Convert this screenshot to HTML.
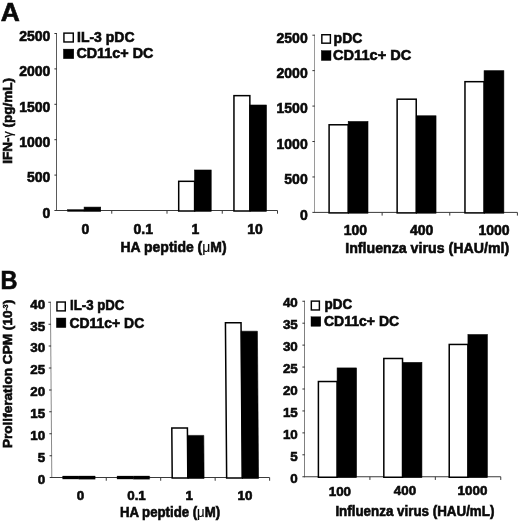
<!DOCTYPE html>
<html><head><meta charset="utf-8"><title>Figure</title>
<style>
html,body{margin:0;padding:0;background:#fff;}
body{width:520px;height:521px;overflow:hidden;font-family:"Liberation Sans",sans-serif;}
svg{display:block;}
svg text{font-family:"Liberation Sans",sans-serif;font-weight:bold;fill:#0a0a0a;stroke:#0a0a0a;stroke-width:0.6px;}
svg{filter:blur(0.35px);}
</style></head>
<body>
<svg width="520" height="521" viewBox="0 0 520 521">
<rect x="0" y="0" width="520" height="521" fill="#fff"/>
<line x1="56.5" y1="33" x2="56.5" y2="211" stroke="#5a5a5a" stroke-width="1"/>
<line x1="56.5" y1="210.5" x2="277.5" y2="210.5" stroke="#3a3a3a" stroke-width="1"/>
<line x1="54.4" y1="33.5" x2="56.8" y2="33.5" stroke="#333" stroke-width="1"/>
<line x1="54.4" y1="68.9" x2="56.8" y2="68.9" stroke="#333" stroke-width="1"/>
<line x1="54.4" y1="104.3" x2="56.8" y2="104.3" stroke="#333" stroke-width="1"/>
<line x1="54.4" y1="139.7" x2="56.8" y2="139.7" stroke="#333" stroke-width="1"/>
<line x1="54.4" y1="175.1" x2="56.8" y2="175.1" stroke="#333" stroke-width="1"/>
<line x1="54.4" y1="210.5" x2="56.8" y2="210.5" stroke="#333" stroke-width="1"/>
<line x1="111.75" y1="210.5" x2="111.75" y2="213.7" stroke="#3a3a3a" stroke-width="1"/>
<line x1="167" y1="210.5" x2="167" y2="213.7" stroke="#3a3a3a" stroke-width="1"/>
<line x1="222.25" y1="210.5" x2="222.25" y2="213.7" stroke="#3a3a3a" stroke-width="1"/>
<line x1="277.5" y1="210.5" x2="277.5" y2="213.7" stroke="#3a3a3a" stroke-width="1"/>
<rect x="67.5" y="209.5" width="16.6" height="2" fill="#000" stroke="#000" stroke-width="0.3"/>
<rect x="84.1" y="207.1" width="16.6" height="4.2" fill="#000" stroke="#000" stroke-width="0.6"/>
<rect x="178.7" y="181.32" width="15.9" height="29.68" fill="#fff" stroke="#000" stroke-width="1.5"/>
<rect x="194.6" y="170" width="16.6" height="41.3" fill="#000" stroke="#000" stroke-width="0.6"/>
<rect x="233.95" y="95.65" width="15.9" height="115.35" fill="#fff" stroke="#000" stroke-width="1.5"/>
<rect x="249.85" y="105.01" width="16.6" height="106.29" fill="#000" stroke="#000" stroke-width="0.6"/>
<text x="50.3" y="40.81" font-size="14" text-anchor="end" >2500</text>
<text x="50.3" y="76.21" font-size="14" text-anchor="end" >2000</text>
<text x="50.3" y="111.61" font-size="14" text-anchor="end" >1500</text>
<text x="50.3" y="147.01" font-size="14" text-anchor="end" >1000</text>
<text x="50.3" y="182.41" font-size="14" text-anchor="end" >500</text>
<text x="50.3" y="218.41" font-size="14" text-anchor="end" >0</text>
<text x="85.4" y="234.4" font-size="14" text-anchor="middle" >0</text>
<text x="143.2" y="234.4" font-size="14" text-anchor="middle" >0.1</text>
<text x="195.5" y="234.4" font-size="14" text-anchor="middle" >1</text>
<text x="255" y="234.4" font-size="14" text-anchor="middle" >10</text>
<line x1="314.5" y1="34.7" x2="314.5" y2="212.9" stroke="#9a9a9a" stroke-width="1"/>
<line x1="314.5" y1="212.4" x2="517.4" y2="212.4" stroke="#3a3a3a" stroke-width="1"/>
<line x1="312.4" y1="35.2" x2="314.8" y2="35.2" stroke="#333" stroke-width="1"/>
<line x1="312.4" y1="70.64" x2="314.8" y2="70.64" stroke="#333" stroke-width="1"/>
<line x1="312.4" y1="106.08" x2="314.8" y2="106.08" stroke="#333" stroke-width="1"/>
<line x1="312.4" y1="141.52" x2="314.8" y2="141.52" stroke="#333" stroke-width="1"/>
<line x1="312.4" y1="176.96" x2="314.8" y2="176.96" stroke="#333" stroke-width="1"/>
<line x1="312.4" y1="212.4" x2="314.8" y2="212.4" stroke="#333" stroke-width="1"/>
<line x1="382.13" y1="212.4" x2="382.13" y2="215.6" stroke="#3a3a3a" stroke-width="1"/>
<line x1="449.77" y1="212.4" x2="449.77" y2="215.6" stroke="#3a3a3a" stroke-width="1"/>
<line x1="517.4" y1="212.4" x2="517.4" y2="215.6" stroke="#3a3a3a" stroke-width="1"/>
<rect x="329.1" y="124.78" width="19.1" height="88.12" fill="#fff" stroke="#000" stroke-width="1.5"/>
<rect x="348.2" y="121.53" width="19.8" height="91.67" fill="#000" stroke="#000" stroke-width="0.6"/>
<rect x="397.13" y="99.19" width="19.1" height="113.71" fill="#fff" stroke="#000" stroke-width="1.5"/>
<rect x="416.23" y="115.79" width="19.8" height="97.41" fill="#000" stroke="#000" stroke-width="0.6"/>
<rect x="464.97" y="81.68" width="19.1" height="131.22" fill="#fff" stroke="#000" stroke-width="1.5"/>
<rect x="484.07" y="70.71" width="19.8" height="142.49" fill="#000" stroke="#000" stroke-width="0.6"/>
<text x="307.7" y="42.61" font-size="14" text-anchor="end" >2500</text>
<text x="307.7" y="78.05" font-size="14" text-anchor="end" >2000</text>
<text x="307.7" y="113.49" font-size="14" text-anchor="end" >1500</text>
<text x="307.7" y="148.93" font-size="14" text-anchor="end" >1000</text>
<text x="307.7" y="184.37" font-size="14" text-anchor="end" >500</text>
<text x="307.7" y="219.81" font-size="14" text-anchor="end" >0</text>
<text x="355.4" y="234.8" font-size="14" text-anchor="middle" >100</text>
<text x="421.6" y="234.8" font-size="14" text-anchor="middle" >400</text>
<text x="494" y="234.8" font-size="14" text-anchor="middle" >1000</text>
<g transform="translate(0 477.6) skewX(0.45) translate(0 -477.6)">
<line x1="51.8" y1="301.8" x2="51.8" y2="478.1" stroke="#8a8a8a" stroke-width="1"/>
<line x1="51.8" y1="477.6" x2="269.6" y2="477.6" stroke="#3a3a3a" stroke-width="1"/>
<line x1="49.7" y1="302.3" x2="52.1" y2="302.3" stroke="#333" stroke-width="1"/>
<line x1="49.7" y1="324.21" x2="52.1" y2="324.21" stroke="#333" stroke-width="1"/>
<line x1="49.7" y1="346.12" x2="52.1" y2="346.12" stroke="#333" stroke-width="1"/>
<line x1="49.7" y1="368.04" x2="52.1" y2="368.04" stroke="#333" stroke-width="1"/>
<line x1="49.7" y1="389.95" x2="52.1" y2="389.95" stroke="#333" stroke-width="1"/>
<line x1="49.7" y1="411.86" x2="52.1" y2="411.86" stroke="#333" stroke-width="1"/>
<line x1="49.7" y1="433.78" x2="52.1" y2="433.78" stroke="#333" stroke-width="1"/>
<line x1="49.7" y1="455.69" x2="52.1" y2="455.69" stroke="#333" stroke-width="1"/>
<line x1="49.7" y1="477.6" x2="52.1" y2="477.6" stroke="#333" stroke-width="1"/>
<line x1="106.25" y1="477.6" x2="106.25" y2="480.8" stroke="#3a3a3a" stroke-width="1"/>
<line x1="160.7" y1="477.6" x2="160.7" y2="480.8" stroke="#3a3a3a" stroke-width="1"/>
<line x1="215.15" y1="477.6" x2="215.15" y2="480.8" stroke="#3a3a3a" stroke-width="1"/>
<line x1="269.6" y1="477.6" x2="269.6" y2="480.8" stroke="#3a3a3a" stroke-width="1"/>
<rect x="62.6" y="476.1" width="16.3" height="3" fill="#000" stroke="#000" stroke-width="0.3"/>
<rect x="78.9" y="476" width="16.3" height="3.2" fill="#000" stroke="#000" stroke-width="0.3"/>
<rect x="117.05" y="476.1" width="16.3" height="3" fill="#000" stroke="#000" stroke-width="0.3"/>
<rect x="133.35" y="476" width="16.3" height="3.2" fill="#000" stroke="#000" stroke-width="0.3"/>
<rect x="172.2" y="428.06" width="15.6" height="50.04" fill="#fff" stroke="#000" stroke-width="1.5"/>
<rect x="187.8" y="435.4" width="16.3" height="43" fill="#000" stroke="#000" stroke-width="0.6"/>
<rect x="226.65" y="322.66" width="15.6" height="155.44" fill="#fff" stroke="#000" stroke-width="1.5"/>
<rect x="242.25" y="331.22" width="16.3" height="147.18" fill="#000" stroke="#000" stroke-width="0.6"/>
</g>
<text x="45.2" y="308.6" font-size="13.4" text-anchor="end" >40</text>
<text x="45.2" y="330.51" font-size="13.4" text-anchor="end" >35</text>
<text x="45.2" y="352.42" font-size="13.4" text-anchor="end" >30</text>
<text x="45.2" y="374.33" font-size="13.4" text-anchor="end" >25</text>
<text x="45.2" y="396.25" font-size="13.4" text-anchor="end" >20</text>
<text x="45.2" y="418.16" font-size="13.4" text-anchor="end" >15</text>
<text x="45.2" y="440.07" font-size="13.4" text-anchor="end" >10</text>
<text x="45.2" y="461.98" font-size="13.4" text-anchor="end" >5</text>
<text x="45.2" y="484.1" font-size="13.4" text-anchor="end" >0</text>
<text x="80.4" y="500" font-size="13.4" text-anchor="middle" >0</text>
<text x="136.5" y="500" font-size="13.4" text-anchor="middle" >0.1</text>
<text x="189.3" y="500" font-size="13.4" text-anchor="middle" >1</text>
<text x="245" y="500" font-size="13.4" text-anchor="middle" >10</text>
<line x1="304.5" y1="300.75" x2="304.5" y2="477.25" stroke="#808080" stroke-width="1"/>
<line x1="304.5" y1="476.75" x2="500.75" y2="476.75" stroke="#3a3a3a" stroke-width="1"/>
<line x1="302.4" y1="301.25" x2="304.8" y2="301.25" stroke="#333" stroke-width="1"/>
<line x1="302.4" y1="323.19" x2="304.8" y2="323.19" stroke="#333" stroke-width="1"/>
<line x1="302.4" y1="345.12" x2="304.8" y2="345.12" stroke="#333" stroke-width="1"/>
<line x1="302.4" y1="367.06" x2="304.8" y2="367.06" stroke="#333" stroke-width="1"/>
<line x1="302.4" y1="389" x2="304.8" y2="389" stroke="#333" stroke-width="1"/>
<line x1="302.4" y1="410.94" x2="304.8" y2="410.94" stroke="#333" stroke-width="1"/>
<line x1="302.4" y1="432.88" x2="304.8" y2="432.88" stroke="#333" stroke-width="1"/>
<line x1="302.4" y1="454.81" x2="304.8" y2="454.81" stroke="#333" stroke-width="1"/>
<line x1="302.4" y1="476.75" x2="304.8" y2="476.75" stroke="#333" stroke-width="1"/>
<line x1="369.92" y1="476.75" x2="369.92" y2="479.95" stroke="#3a3a3a" stroke-width="1"/>
<line x1="435.33" y1="476.75" x2="435.33" y2="479.95" stroke="#3a3a3a" stroke-width="1"/>
<line x1="500.75" y1="476.75" x2="500.75" y2="479.95" stroke="#3a3a3a" stroke-width="1"/>
<rect x="318.4" y="381.52" width="18.7" height="95.73" fill="#fff" stroke="#000" stroke-width="1.5"/>
<rect x="337.1" y="367.94" width="19.4" height="109.61" fill="#000" stroke="#000" stroke-width="0.6"/>
<rect x="383.82" y="358.49" width="18.7" height="118.76" fill="#fff" stroke="#000" stroke-width="1.5"/>
<rect x="402.52" y="362.46" width="19.4" height="115.09" fill="#000" stroke="#000" stroke-width="0.6"/>
<rect x="449.23" y="344.45" width="18.7" height="132.8" fill="#fff" stroke="#000" stroke-width="1.5"/>
<rect x="467.93" y="334.6" width="19.4" height="142.96" fill="#000" stroke="#000" stroke-width="0.6"/>
<text x="297.8" y="307.35" font-size="13.4" text-anchor="end" >40</text>
<text x="297.8" y="329.28" font-size="13.4" text-anchor="end" >35</text>
<text x="297.8" y="351.22" font-size="13.4" text-anchor="end" >30</text>
<text x="297.8" y="373.16" font-size="13.4" text-anchor="end" >25</text>
<text x="297.8" y="395.1" font-size="13.4" text-anchor="end" >20</text>
<text x="297.8" y="417.03" font-size="13.4" text-anchor="end" >15</text>
<text x="297.8" y="438.97" font-size="13.4" text-anchor="end" >10</text>
<text x="297.8" y="460.91" font-size="13.4" text-anchor="end" >5</text>
<text x="297.8" y="482.85" font-size="13.4" text-anchor="end" >0</text>
<text x="339.9" y="495.5" font-size="13.4" text-anchor="middle" >100</text>
<text x="405" y="495.1" font-size="13.4" text-anchor="middle" >400</text>
<text x="472.5" y="494.5" font-size="13.4" text-anchor="middle" >1000</text>
<text x="0.8" y="20.6" font-size="25.4" text-anchor="start" transform="translate(0.8 0) scale(1.04 1) translate(-0.8 0)">A</text>
<text x="0.6" y="288.9" font-size="25.3" text-anchor="start" transform="translate(0.6 0) scale(0.93 1) translate(-0.6 0)">B</text>
<rect x="63.93" y="33.12" width="9.35" height="8.85" fill="#fff" stroke="#050505" stroke-width="1.45"/>
<rect x="63.4" y="49.1" width="10.4" height="9.6" fill="#000" stroke="#000" stroke-width="0.4"/>
<text x="77" y="41.8" font-size="14.56" text-anchor="start" textLength="57.55" lengthAdjust="spacingAndGlyphs">IL-3 pDC</text>
<text x="76.4" y="58.4" font-size="14.56" text-anchor="start" textLength="77" lengthAdjust="spacingAndGlyphs">CD11c+ DC</text>
<rect x="321.83" y="34.73" width="8.55" height="8.45" fill="#fff" stroke="#050505" stroke-width="1.45"/>
<rect x="321.3" y="50.6" width="9.7" height="9.9" fill="#000" stroke="#000" stroke-width="0.4"/>
<text x="333.6" y="43.3" font-size="14.56" text-anchor="start" textLength="28.77" lengthAdjust="spacingAndGlyphs">pDC</text>
<text x="333" y="60.1" font-size="14.56" text-anchor="start" textLength="78.3" lengthAdjust="spacingAndGlyphs">CD11c+ DC</text>
<rect x="56.93" y="302.03" width="8.35" height="8.85" fill="#fff" stroke="#050505" stroke-width="1.45"/>
<rect x="56.4" y="318" width="9.5" height="9.6" fill="#000" stroke="#000" stroke-width="0.4"/>
<text x="70.1" y="310.1" font-size="13.728" text-anchor="start" textLength="54.27" lengthAdjust="spacingAndGlyphs">IL-3 pDC</text>
<text x="69.5" y="327.6" font-size="13.728" text-anchor="start" textLength="74.7" lengthAdjust="spacingAndGlyphs">CD11c+ DC</text>
<rect x="311.33" y="301.12" width="8.05" height="8.85" fill="#fff" stroke="#050505" stroke-width="1.45"/>
<rect x="311" y="316.8" width="9.8" height="9.5" fill="#000" stroke="#000" stroke-width="0.4"/>
<text x="324.6" y="309.4" font-size="13.936000000000002" text-anchor="start" textLength="27.54" lengthAdjust="spacingAndGlyphs">pDC</text>
<text x="324" y="326.4" font-size="13.936000000000002" text-anchor="start" textLength="75.2" lengthAdjust="spacingAndGlyphs">CD11c+ DC</text>
<text x="120.5" y="251.9" font-size="14.595" text-anchor="start" textLength="106.1" lengthAdjust="spacingAndGlyphs">HA peptide (<tspan font-weight="normal" stroke-width="0.15">μ</tspan>M)</text>
<text x="345.2" y="253.4" font-size="14.700000000000001" text-anchor="start" textLength="164" lengthAdjust="spacingAndGlyphs">Influenza virus (HAU/ml)</text>
<text x="119.9" y="516.5" font-size="13.912500000000001" text-anchor="start" textLength="100.2" lengthAdjust="spacingAndGlyphs">HA peptide (<tspan font-weight="normal" stroke-width="0.15">μ</tspan>M)</text>
<text x="335.4" y="515.7" font-size="14.07" text-anchor="start" textLength="159" lengthAdjust="spacingAndGlyphs">Influenza virus (HAU/mL)</text>
<text transform="translate(11.7,163.7) rotate(-90)" font-size="13.5">IFN-<tspan font-weight="normal" stroke-width="0.2" font-size="12.5">γ</tspan> (pg/mL)</text>
<text transform="translate(12.0,448.1) rotate(-90)" font-size="13.62">Proliferation CPM (10<tspan font-size="6.9" dy="-4.4" stroke-width="0.4">-3</tspan><tspan dy="4.4">)</tspan></text>
</svg>
</body></html>
